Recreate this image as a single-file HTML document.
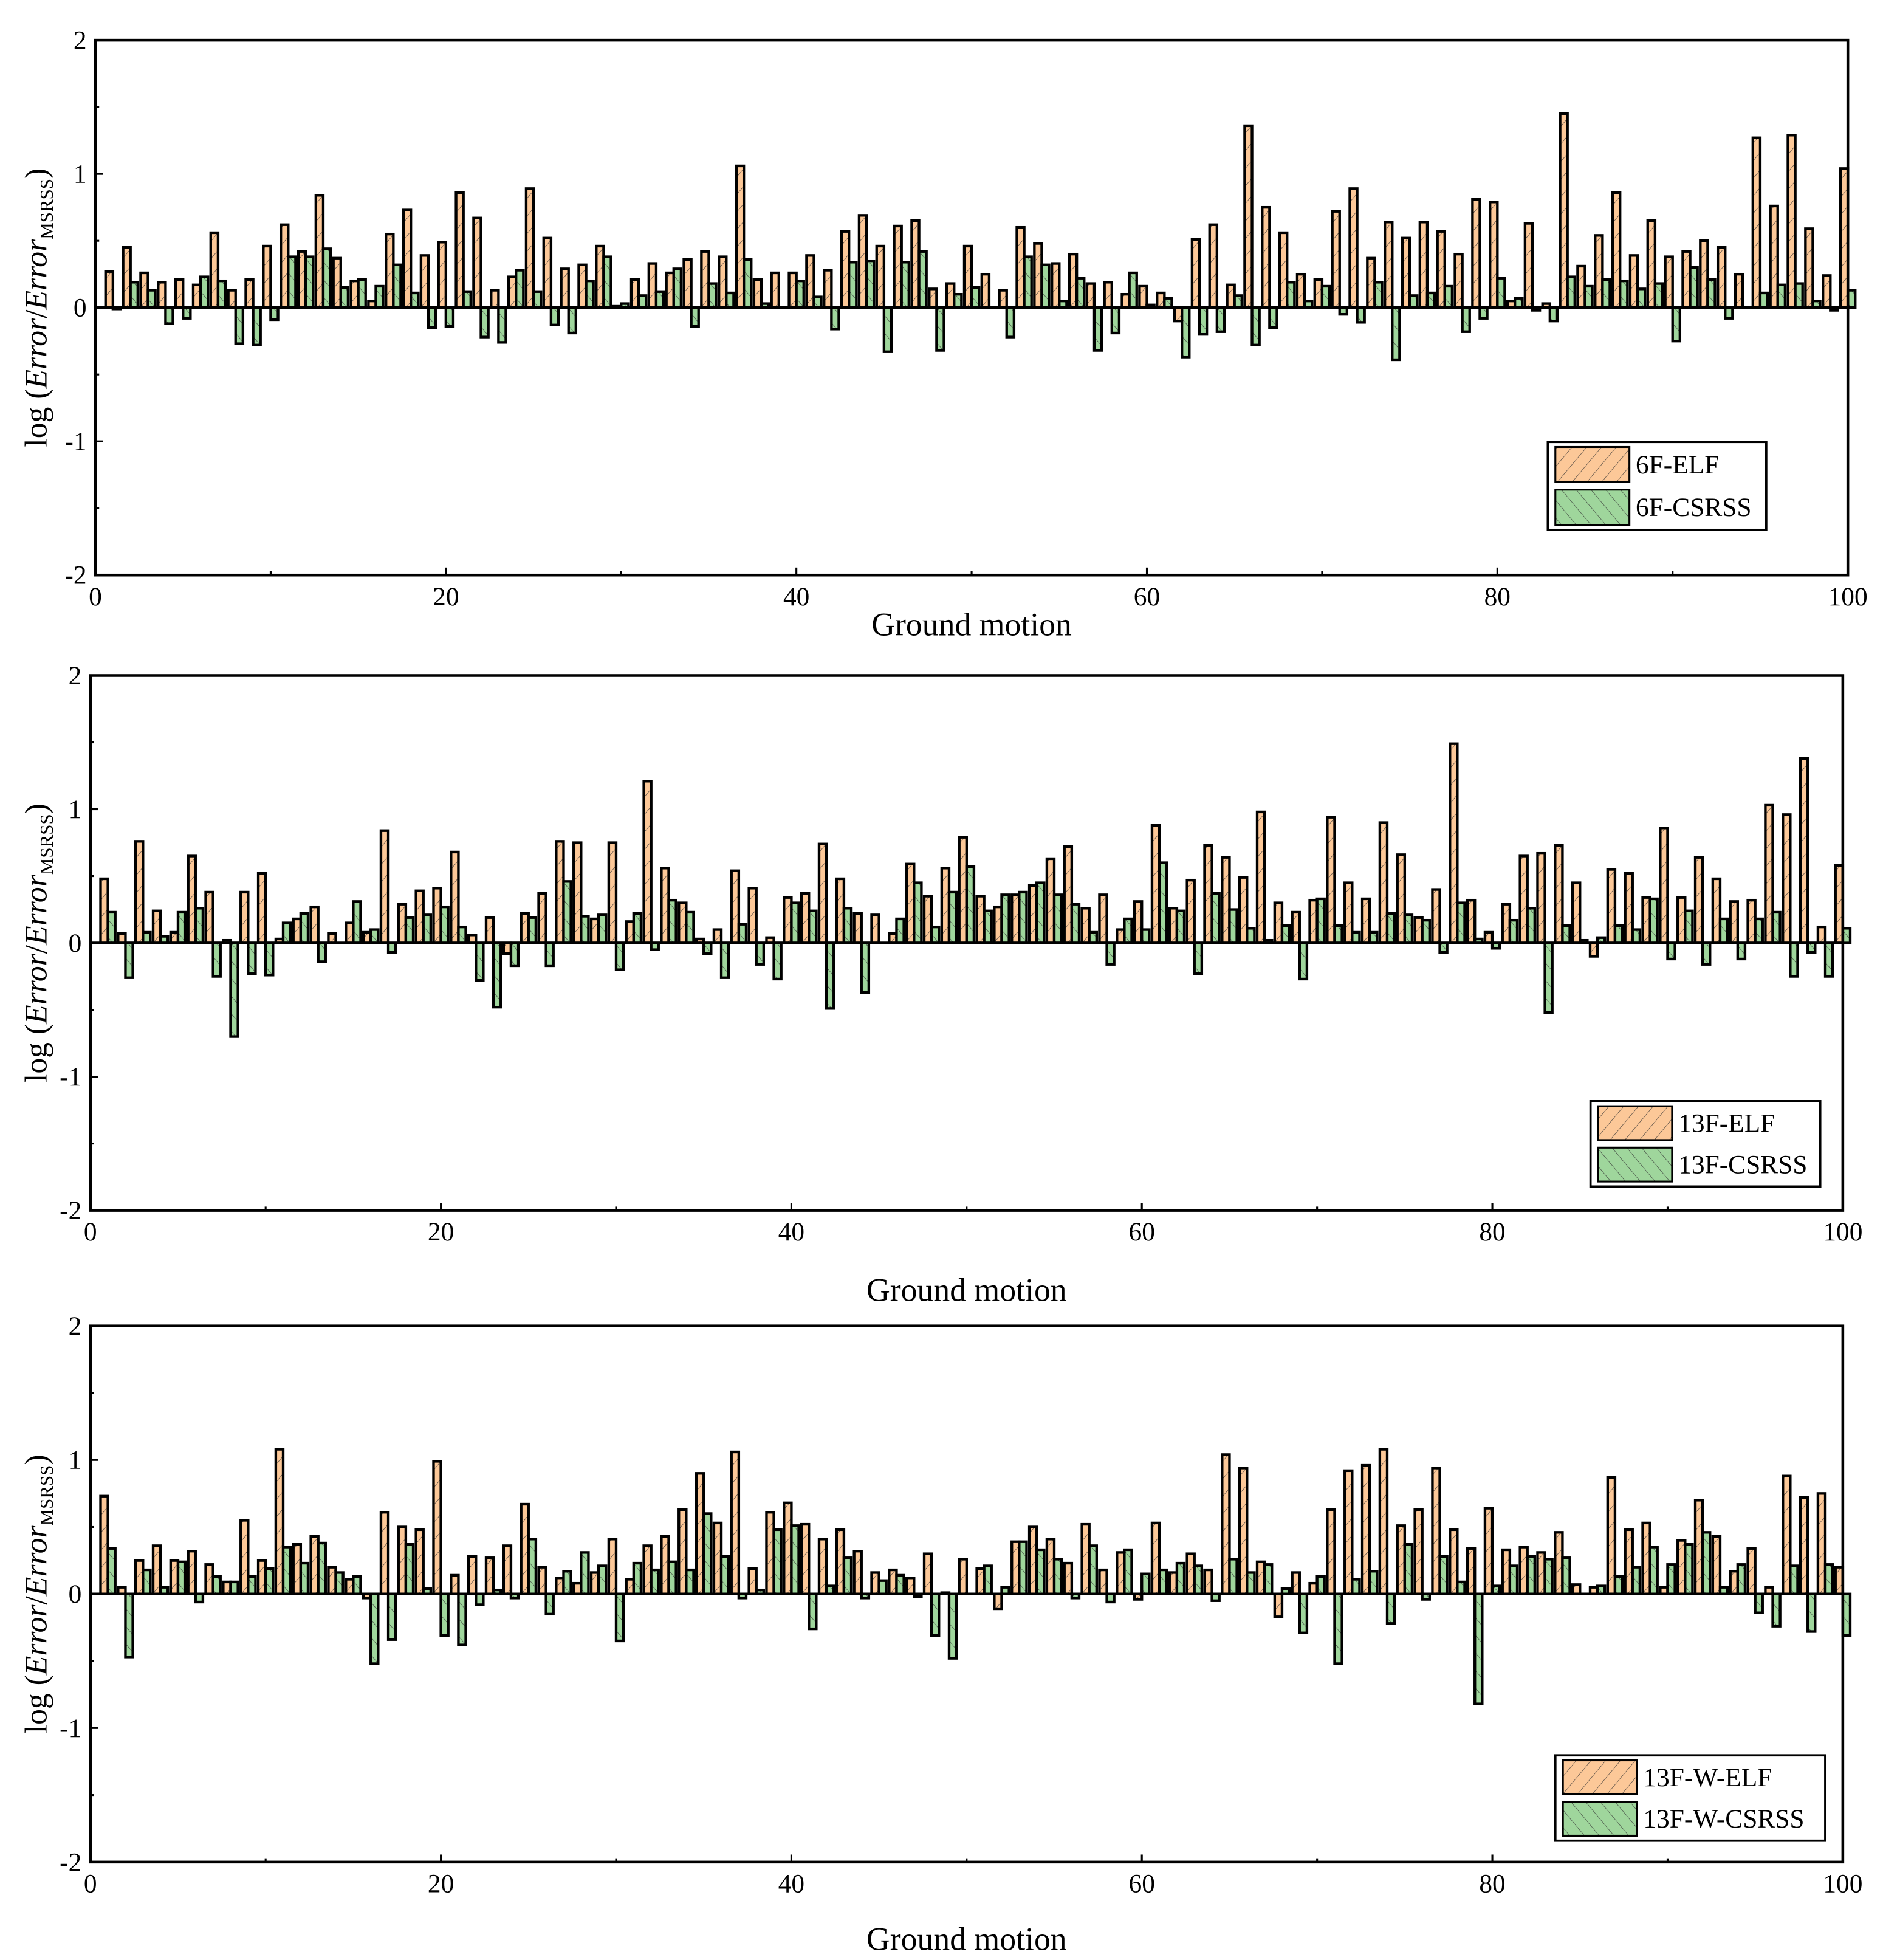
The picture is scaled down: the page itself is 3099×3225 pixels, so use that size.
<!DOCTYPE html>
<html><head><meta charset="utf-8"><style>
html,body{margin:0;padding:0;background:#fff}
svg{display:block}
text{font-family:"Liberation Serif",serif;fill:#000}
</style></head><body>
<svg id="chart" width="3099" height="3225" viewBox="0 0 1500 1561" xmlns="http://www.w3.org/2000/svg">
<defs>
<pattern id="hatchO" patternUnits="userSpaceOnUse" width="9" height="9" patternTransform="rotate(40)">
<rect width="9" height="9" fill="#fcc898"/><line x1="0" y1="0" x2="0" y2="9" stroke="#333" stroke-width="0.6"/></pattern>
<pattern id="hatchG" patternUnits="userSpaceOnUse" width="9" height="9" patternTransform="rotate(-40)">
<rect width="9" height="9" fill="#9fd69c"/><line x1="0" y1="0" x2="0" y2="9" stroke="#333" stroke-width="0.6"/></pattern>
</defs>
</svg>
<script>
const elf6=[0.27,0.45,0.26,0.19,0.21,0.17,0.56,0.13,0.21,0.46,0.62,0.42,0.84,0.37,0.20,0.05,0.55,0.73,0.39,0.49,0.86,0.67,0.13,0.23,0.89,0.52,0.29,0.32,0.46,0.01,0.21,0.33,0.26,0.36,0.42,0.38,1.06,0.21,0.26,0.26,0.39,0.28,0.57,0.69,0.46,0.61,0.65,0.14,0.18,0.46,0.25,0.13,0.60,0.48,0.33,0.40,0.18,0.19,0.10,0.16,0.11,-0.10,0.51,0.62,0.17,1.36,0.75,0.56,0.25,0.21,0.72,0.89,0.37,0.64,0.52,0.64,0.57,0.40,0.81,0.79,0.05,0.63,0.03,1.45,0.31,0.54,0.86,0.39,0.65,0.38,0.42,0.50,0.45,0.25,1.27,0.76,1.29,0.59,0.24,1.04];
const cs6=[-0.01,0.19,0.13,-0.12,-0.08,0.23,0.20,-0.27,-0.28,-0.09,0.38,0.38,0.44,0.15,0.21,0.16,0.32,0.11,-0.15,-0.14,0.12,-0.22,-0.26,0.28,0.12,-0.13,-0.19,0.20,0.38,0.03,0.09,0.12,0.29,-0.14,0.18,0.11,0.36,0.03,0.00,0.20,0.08,-0.16,0.34,0.35,-0.33,0.34,0.42,-0.32,0.10,0.15,0.00,-0.22,0.38,0.32,0.05,0.22,-0.32,-0.19,0.26,0.02,0.07,-0.37,-0.20,-0.18,0.09,-0.28,-0.15,0.19,0.05,0.16,-0.05,-0.11,0.19,-0.39,0.09,0.11,0.16,-0.18,-0.08,0.22,0.07,-0.02,-0.10,0.23,0.16,0.21,0.20,0.14,0.18,-0.25,0.30,0.21,-0.08,0.00,0.11,0.17,0.18,0.05,-0.02,0.13];
const elf13=[0.48,0.07,0.76,0.24,0.08,0.65,0.38,0.02,0.38,0.52,0.03,0.18,0.27,0.07,0.15,0.08,0.84,0.29,0.39,0.41,0.68,0.06,0.19,-0.08,0.22,0.37,0.76,0.75,0.18,0.75,0.16,1.21,0.56,0.30,0.03,0.10,0.54,0.41,0.04,0.34,0.37,0.74,0.48,0.22,0.21,0.07,0.59,0.35,0.56,0.79,0.35,0.27,0.36,0.43,0.63,0.72,0.26,0.36,0.10,0.31,0.88,0.26,0.47,0.73,0.64,0.49,0.98,0.30,0.23,0.32,0.94,0.45,0.33,0.90,0.66,0.19,0.40,1.49,0.32,0.08,0.29,0.65,0.67,0.73,0.45,-0.10,0.55,0.52,0.34,0.86,0.34,0.64,0.48,0.31,0.32,1.03,0.96,1.38,0.12,0.58];
const cs13=[0.23,-0.26,0.08,0.05,0.23,0.26,-0.25,-0.70,-0.23,-0.24,0.15,0.22,-0.14,0.00,0.31,0.10,-0.07,0.19,0.21,0.27,0.12,-0.28,-0.48,-0.17,0.19,-0.17,0.46,0.20,0.21,-0.20,0.22,-0.05,0.32,0.23,-0.08,-0.26,0.14,-0.16,-0.27,0.30,0.24,-0.49,0.26,-0.37,0.00,0.18,0.45,0.12,0.38,0.57,0.24,0.36,0.38,0.45,0.36,0.29,0.08,-0.16,0.18,0.10,0.60,0.24,-0.23,0.37,0.25,0.11,0.02,0.13,-0.27,0.33,0.13,0.08,0.08,0.22,0.21,0.17,-0.07,0.30,0.03,-0.04,0.17,0.26,-0.52,0.13,0.02,0.04,0.13,0.10,0.33,-0.12,0.24,-0.16,0.18,-0.12,0.18,0.23,-0.25,-0.07,-0.25,0.11];
const elf13w=[0.73,0.05,0.25,0.36,0.25,0.32,0.22,0.09,0.55,0.25,1.08,0.37,0.43,0.20,0.11,-0.03,0.61,0.50,0.48,0.99,0.14,0.28,0.27,0.36,0.67,0.20,0.12,0.08,0.16,0.41,0.11,0.36,0.43,0.63,0.90,0.53,1.06,0.19,0.61,0.68,0.52,0.41,0.48,0.32,0.16,0.18,0.12,0.30,0.01,0.26,0.19,-0.11,0.39,0.50,0.41,0.23,0.52,0.18,0.31,-0.04,0.53,0.16,0.30,0.18,1.04,0.94,0.24,-0.17,0.16,0.08,0.63,0.92,0.96,1.08,0.51,0.63,0.94,0.48,0.34,0.64,0.33,0.35,0.31,0.46,0.07,0.05,0.87,0.48,0.53,0.05,0.40,0.70,0.43,0.17,0.34,0.05,0.88,0.72,0.75,0.20];
const cs13w=[0.34,-0.47,0.18,0.05,0.24,-0.06,0.13,0.09,0.13,0.19,0.35,0.23,0.38,0.16,0.13,-0.52,-0.34,0.37,0.04,-0.31,-0.38,-0.08,0.03,-0.03,0.41,-0.15,0.17,0.31,0.21,-0.35,0.23,0.18,0.24,0.18,0.60,0.28,-0.03,0.03,0.48,0.51,-0.26,0.06,0.27,-0.03,0.10,0.14,-0.02,-0.31,-0.48,0.00,0.21,0.05,0.39,0.33,0.26,-0.03,0.36,-0.06,0.33,0.15,0.18,0.23,0.21,-0.05,0.26,0.16,0.22,0.04,-0.29,0.13,-0.52,0.11,0.17,-0.22,0.37,-0.04,0.28,0.09,-0.82,0.06,0.21,0.28,0.26,0.27,0.00,0.06,0.13,0.20,0.35,0.22,0.37,0.46,0.05,0.22,-0.14,-0.24,0.21,-0.28,0.22,-0.31];
const xTicks=[0,20,40,60,80,100];
const yTicks=[-2,-1,0,1,2];
const legendNames=[["6F-ELF","6F-CSRSS"],["13F-ELF","13F-CSRSS"],["13F-W-ELF","13F-W-CSRSS"]];

const NS="http://www.w3.org/2000/svg";
const svg=document.getElementById('chart');
function mk(tag,attrs,parent){const e=document.createElementNS(NS,tag);for(const k in attrs)e.setAttribute(k,attrs[k]);(parent||svg).appendChild(e);return e;}

const panels=[
 {x0:76,x1:1472,top:32,bot:458,xl:506,cx:774,leg:[1233,352,174,70],e:elf6,c:cs6,n:0},
 {x0:72,x1:1468,top:538,bot:964,xl:1036,cx:770,leg:[1267,877,183,68],e:elf13,c:cs13,n:1},
 {x0:72,x1:1468,top:1056,bot:1483,xl:1553,cx:770,leg:[1239,1398,215,68],e:elf13w,c:cs13w,n:2}
];

panels.forEach(p=>{
 const g=mk('g',{});
 
 
 const X=v=>p.x0+(v/100)*(p.x1-p.x0);
 const Y=v=>p.bot-(v+2)/4*(p.bot-p.top);
 const u=(p.x1-p.x0)/100;
 for(let i=0;i<p.e.length;i++){
  const gm=i+1;
  const ve=p.e[i], vc=p.c[i];
  const be=mk('rect',{x:X(gm)-0.42*u,y:Math.min(Y(ve),Y(0)),width:0.42*u,height:Math.abs(Y(ve)-Y(0)),fill:'url(#hatchO)',stroke:'#000','stroke-width':2.1},g);
  
  
  const bc=mk('rect',{x:X(gm),y:Math.min(Y(vc),Y(0)),width:0.42*u,height:Math.abs(Y(vc)-Y(0)),fill:'url(#hatchG)',stroke:'#000','stroke-width':2.1},g);
  
  
 }
 const zl=mk('line',{x1:p.x0,x2:p.x1,y1:Y(0),y2:Y(0),stroke:'#000','stroke-width':2.2},g);
 
 
 const fr=mk('rect',{x:p.x0,y:p.top,width:p.x1-p.x0,height:p.bot-p.top,fill:'none',stroke:'#000','stroke-width':2.2},g);
 
 
 for(let v=0;v<=100;v+=10){
  const maj=v%20===0;
  mk('line',{x1:X(v),x2:X(v),y1:p.bot,y2:p.bot-(maj?6:3),stroke:'#000','stroke-width':1.5},g);
 }
 xTicks.forEach(v=>{
  const t=mk('text',{x:X(v),y:p.bot+24,'text-anchor':'middle','font-size':21},g);
  t.textContent=v;
  
  
 });
 for(let v=-2;v<=2;v+=0.5){
  const maj=Number.isInteger(v);
  mk('line',{x1:p.x0,x2:p.x0+(maj?6:3),y1:Y(v),y2:Y(v),stroke:'#000','stroke-width':1.5},g);
 }
 yTicks.forEach(v=>{
  const t=mk('text',{x:p.x0-7,y:Y(v)+7,'text-anchor':'end','font-size':21},g);
  t.textContent=v;
  
  
 });
 const xt=mk('text',{x:p.cx,y:p.xl,'text-anchor':'middle','font-size':26},g);
 xt.textContent='Ground motion';
 
 
 const cy=(p.top+p.bot)/2;
 const yt=mk('text',{x:0,y:0,'text-anchor':'middle','font-size':25,transform:`translate(37,${cy}) rotate(-90)`},g);
 yt.innerHTML='log (<tspan font-style="italic">Error</tspan>/<tspan font-style="italic">Error</tspan><tspan font-size="15" dy="5">MSRSS</tspan><tspan dy="-5">)</tspan>';
 
 
 const [lx,ly,lw,lh]=p.leg;
 const lg=mk('g',{},g);
 
 
 mk('rect',{x:lx,y:ly,width:lw,height:lh,fill:'#fff',stroke:'#000','stroke-width':1.8},lg);
 const fills=['url(#hatchO)','url(#hatchG)'];
 for(let k=0;k<2;k++){
  const ey=ly+4+k*(lh/2-1);
  const sw=mk('rect',{x:lx+6,y:ey,width:59,height:lh/2-7,fill:fills[k],stroke:'#000','stroke-width':1.5},lg);
  
  
  const lt=mk('text',{x:lx+70,y:ey+(lh/2-7)/2+7,'font-size':21},lg);
  lt.textContent=legendNames[p.n][k];
  
  
 }
});
</script>
</body></html>
